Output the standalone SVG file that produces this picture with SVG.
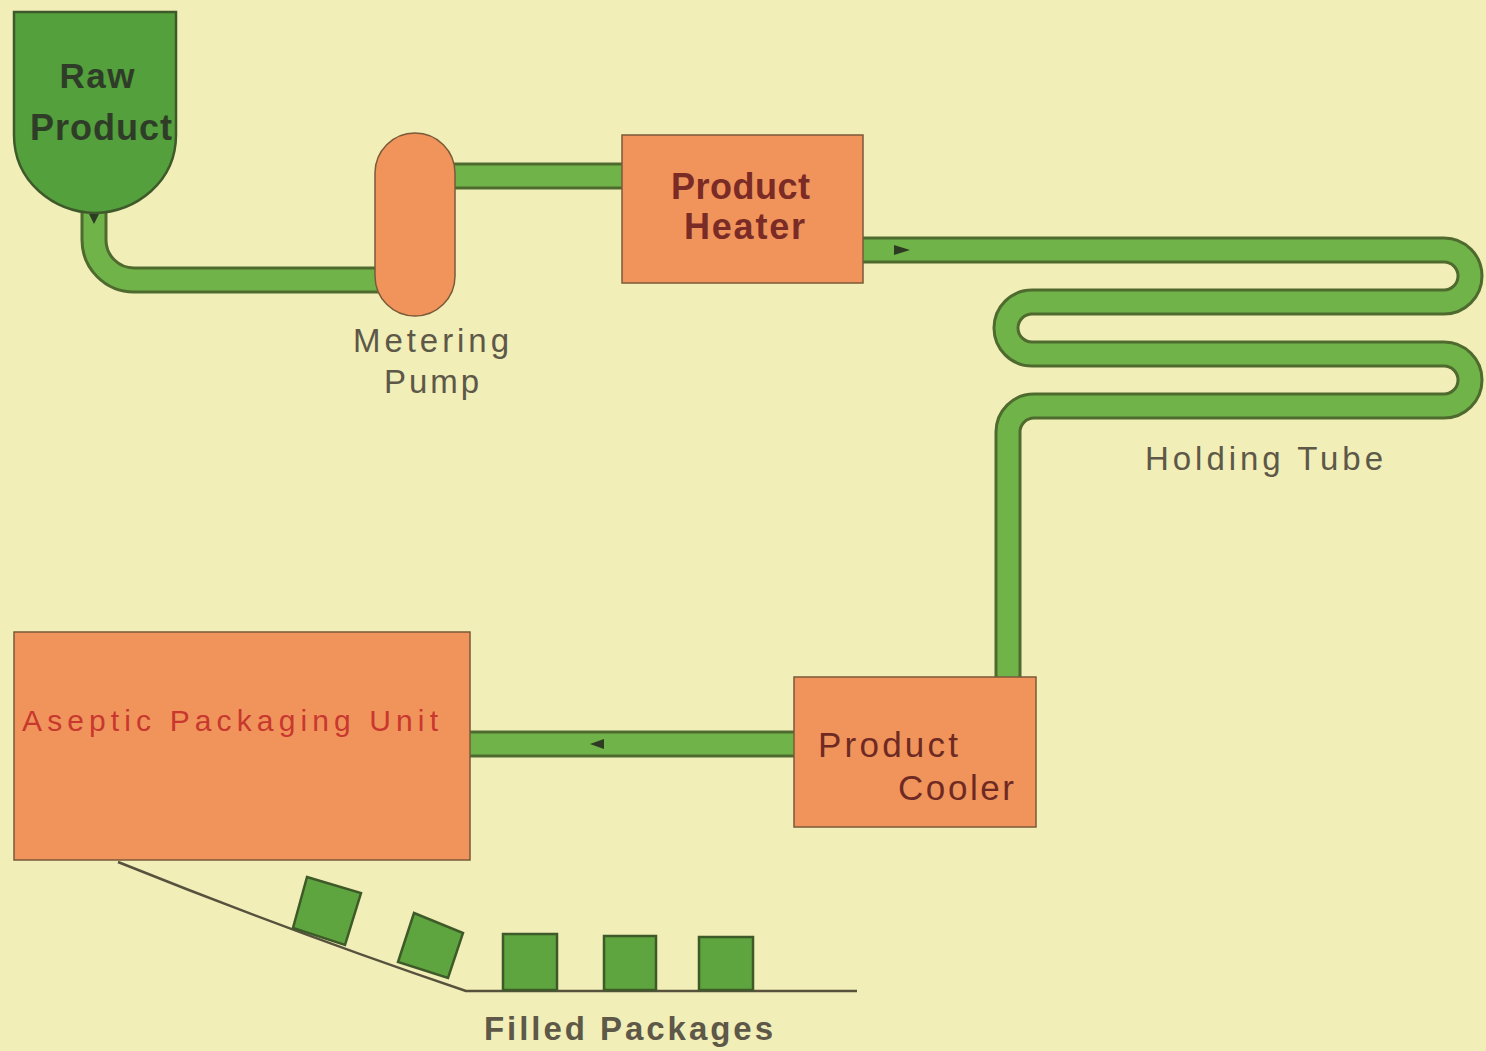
<svg xmlns="http://www.w3.org/2000/svg" width="1486" height="1051" viewBox="0 0 1486 1051">
<defs>
<style>
.pipeO{fill:none;stroke:#4f6a2e;stroke-width:27}
.pipeI{fill:none;stroke:#70b349;stroke-width:21}
.box{fill:#f0945c;stroke:#7a5a38;stroke-width:1.5}
.pkg{fill:#5ea53f;stroke:#3e5a28;stroke-width:2.5}
.lbl{font-family:"Liberation Sans",Arial,sans-serif;font-size:33px;fill:#5d5848}
.nodeT{font-family:"Liberation Sans",Arial,sans-serif;font-size:36px;font-weight:bold;fill:#7b2b25}
.arr{fill:#2c3b22}
</style>
</defs>
<rect width="1486" height="1051" fill="#f1eeb7"/>
<g id="connectors">
<path class="pipeO" d="M94,205 V240 A40,40 0 0 0 134,280 H380"/>
<path class="pipeI" d="M94,205 V240 A40,40 0 0 0 134,280 H380"/>
<path class="pipeO" d="M450,176 H624"/>
<path class="pipeI" d="M450,176 H624"/>
<path class="pipeO" d="M862,250 H1444 A26,26 0 0 1 1444,302 H1032 A26,26 0 0 0 1032,354 H1444 A26,26 0 0 1 1444,406 H1034 A26,26 0 0 0 1008,432 V679"/>
<path class="pipeI" d="M862,250 H1444 A26,26 0 0 1 1444,302 H1032 A26,26 0 0 0 1032,354 H1444 A26,26 0 0 1 1444,406 H1034 A26,26 0 0 0 1008,432 V679"/>
<path class="pipeO" d="M468,744 H796"/>
<path class="pipeI" d="M468,744 H796"/>
<path class="arr" d="M89,214 L99,214 L94,224 Z"/>
<path class="arr" d="M894,245 L910,250 L894,255 Z"/>
<path class="arr" d="M604,739 L590,744 L604,749 Z"/>
<path d="M118,862 Q300,935 466,991 H857" fill="none" stroke="#57523e" stroke-width="2.5"/>
</g>
<g id="raw-product">
<path d="M14,12 H176 V135 C176,182 136,212 95,213 C54,212 14,182 14,135 Z" fill="#53a03c" stroke="#3f5a2a" stroke-width="2.5"/>
<text x="97" y="88" text-anchor="middle" font-family="Liberation Sans,Arial,sans-serif" font-size="35" font-weight="bold" fill="#2f3d28" textLength="75" lengthAdjust="spacing">Raw</text>
<text x="30" y="140" font-family="Liberation Sans,Arial,sans-serif" font-size="36" font-weight="bold" fill="#2f3d28" textLength="142" lengthAdjust="spacing">Product</text>
</g>
<g id="metering-pump">
<rect class="box" x="375" y="133" width="80" height="183" rx="40" ry="40"/>
<text class="lbl" x="353" y="352" textLength="156" lengthAdjust="spacing">Metering</text>
<text class="lbl" x="384" y="393" textLength="95" lengthAdjust="spacing">Pump</text>
</g>
<g id="product-heater">
<rect class="box" x="622" y="135" width="241" height="148"/>
<text class="nodeT" x="671" y="199" textLength="139" lengthAdjust="spacing">Product</text>
<text class="nodeT" x="684" y="239" textLength="121" lengthAdjust="spacing">Heater</text>
</g>
<g id="holding-tube">
<text class="lbl" x="1145" y="470" textLength="238" lengthAdjust="spacing">Holding Tube</text>
</g>
<g id="product-cooler">
<rect class="box" x="794" y="677" width="242" height="150"/>
<text x="818" y="757" font-family="Liberation Sans,Arial,sans-serif" font-size="35" fill="#6e2a22" textLength="140" lengthAdjust="spacing">Product</text>
<text x="898" y="800" font-family="Liberation Sans,Arial,sans-serif" font-size="35" fill="#6e2a22" textLength="116" lengthAdjust="spacing">Cooler</text>
</g>
<g id="aseptic-packaging-unit">
<rect class="box" x="14" y="632" width="456" height="228"/>
<text x="22" y="731" font-family="Liberation Sans,Arial,sans-serif" font-size="30" fill="#c8382e" textLength="416" lengthAdjust="spacing">Aseptic Packaging Unit</text>
</g>
<g id="filled-packages">
<polygon class="pkg" points="307,877 361,893 345,945 293,928"/>
<polygon class="pkg" points="414,913 463,933 448,978 398,962"/>
<rect class="pkg" x="503" y="934" width="54" height="56"/>
<rect class="pkg" x="604" y="936" width="52" height="54"/>
<rect class="pkg" x="699" y="937" width="54" height="53"/>
<text class="lbl" x="484" y="1040" font-weight="bold" font-size="32" textLength="289" lengthAdjust="spacing">Filled Packages</text>
</g>
</svg>
